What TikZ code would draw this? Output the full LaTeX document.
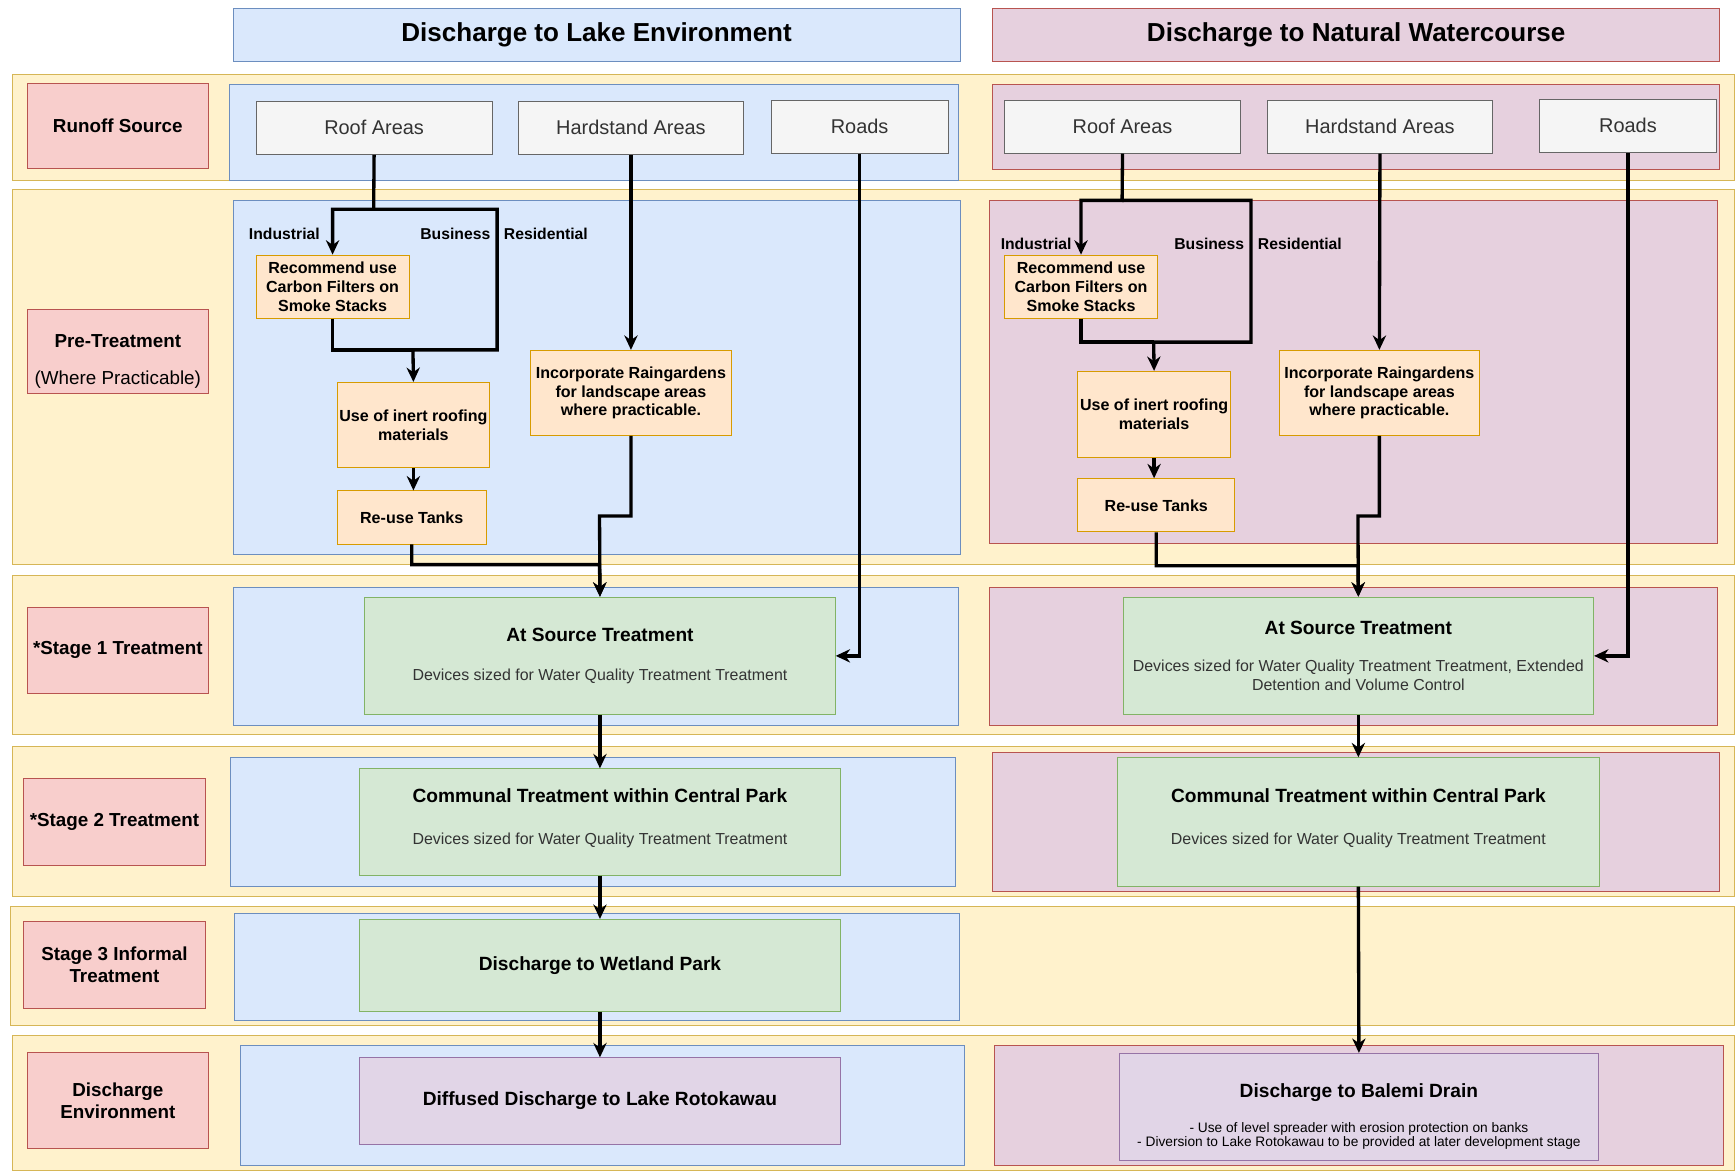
\documentclass[tikz,border=0pt]{standalone}
\usepackage{fontspec}
\setmainfont{Liberation Sans}
\usetikzlibrary{arrows.meta, positioning}
\definecolor{lanefill}{HTML}{FFF2CC}
\definecolor{laneline}{HTML}{D6B656}
\definecolor{redfill}{HTML}{F8CECC}
\definecolor{redline}{HTML}{B85450}
\definecolor{bluefill}{HTML}{DAE8FC}
\definecolor{blueline}{HTML}{6C8EBF}
\definecolor{pinkfill}{HTML}{E6D0DE}
\definecolor{pinkline}{HTML}{B85450}
\definecolor{grayfill}{HTML}{F5F5F5}
\definecolor{grayline}{HTML}{666666}
\definecolor{orangefill}{HTML}{FFE6CC}
\definecolor{orangeline}{HTML}{D79B00}
\definecolor{greenfill}{HTML}{D5E8D4}
\definecolor{greenline}{HTML}{82B366}
\definecolor{purplefill}{HTML}{E1D5E7}
\definecolor{purpleline}{HTML}{9673A6}
\definecolor{subtext}{HTML}{333333}

\begin{document}
\begin{tikzpicture}[x=1pt, y=-1pt,
    box/.style={anchor=north west, inner sep=0pt, line width=0.8pt, align=center},
    lane/.style={box, draw=laneline, fill=lanefill},
    stagelab/.style={box, draw=redline, fill=redfill, font=\fontsize{17}{20}\selectfont\bfseries},
    colhead/.style={box, font=\fontsize{23.5}{27}\selectfont\bfseries},
    lakepanel/.style={box, draw=blueline, fill=bluefill},
    creekpanel/.style={box, draw=pinkline, fill=pinkfill},
    source/.style={box, draw=grayline, fill=grayfill, text=subtext, font=\fontsize{18}{22}\selectfont},
    pre/.style={box, draw=orangeline, fill=orangefill, font=\fontsize{14.5}{17}\selectfont\bfseries},
    treat/.style={box, draw=greenline, fill=greenfill, font=\fontsize{17.3}{20}\selectfont\bfseries},
    outlet/.style={box, draw=purpleline, fill=purplefill, font=\fontsize{17.3}{20}\selectfont\bfseries},
    landuse/.style={inner sep=0pt, font=\fontsize{14.2}{17}\selectfont\bfseries},
    pipe/.style={line width=3pt},
    flow/.style={pipe, -{Stealth[length=13pt, width=12pt]}}
  ]
  \newcommand{\subfont}{\fontsize{14.4}{17}\selectfont\mdseries\color{subtext}}
  \newcommand{\notefont}{\fontsize{12.4}{13}\selectfont\mdseries}
  \useasboundingbox (0,0) rectangle (1568,1059);

  % column headings
  \node[colhead, lakepanel, minimum width=657pt, minimum height=48pt] (headL) at (210,7) {Discharge to Lake Environment};
  \node[colhead, creekpanel, minimum width=657pt, minimum height=48pt] (headR) at (896,7) {Discharge to Natural Watercourse};

  % swim lanes
  \node[lane, minimum width=1555pt, minimum height=96pt] (laneSrc) at (11,67) {};
  \node[lane, minimum width=1555pt, minimum height=338pt] (lanePre) at (11,171) {};
  \node[lane, minimum width=1555pt, minimum height=144pt] (laneOne) at (11,519) {};
  \node[lane, minimum width=1555pt, minimum height=135pt] (laneTwo) at (11,674) {};
  \node[lane, minimum width=1557pt, minimum height=108pt] (laneThree) at (9,818) {};
  \node[lane, minimum width=1555pt, minimum height=122pt] (laneDis) at (11,935) {};

  % lane labels
  \node[stagelab, minimum width=164pt, minimum height=77pt] (labSrc) at (24,75) {Runoff Source};
  \node[stagelab, minimum width=164pt, minimum height=76pt] (labPre) at (24,279) {\rule{0pt}{30pt}Pre-Treatment\\[13pt]{\mdseries(Where Practicable)}};
  \node[stagelab, minimum width=164pt, minimum height=78pt] (labOne) at (24,548) {*Stage 1 Treatment};
  \node[stagelab, minimum width=164pt, minimum height=78pt] (labTwo) at (21,703) {*Stage 2 Treatment};
  \node[stagelab, minimum width=164pt, minimum height=78pt] (labThree) at (21,832) {Stage 3 Informal\\Treatment};
  \node[stagelab, minimum width=164pt, minimum height=87pt] (labDis) at (24,950) {Discharge\\Environment};

  % panels
  \node[lakepanel, minimum width=658pt, minimum height=87pt] (pSrcL) at (207,76) {};
  \node[creekpanel, minimum width=657pt, minimum height=77pt] (pSrcR) at (896,76) {};
  \node[lakepanel, minimum width=657pt, minimum height=319pt] (pPreL) at (210,181) {};
  \node[creekpanel, minimum width=658pt, minimum height=309pt] (pPreR) at (893,181) {};
  \node[lakepanel, minimum width=655pt, minimum height=125pt] (pOneL) at (210,530) {};
  \node[creekpanel, minimum width=658pt, minimum height=125pt] (pOneR) at (893,530) {};
  \node[lakepanel, minimum width=655pt, minimum height=116pt] (pTwoL) at (208,684) {};
  \node[creekpanel, minimum width=657pt, minimum height=126pt] (pTwoR) at (896,679) {};
  \node[lakepanel, minimum width=655pt, minimum height=96pt] (pThreeL) at (211,825) {};
  \node[lakepanel, minimum width=654pt, minimum height=108pt] (pDisL) at (217,944) {};
  \node[creekpanel, minimum width=658pt, minimum height=108pt] (pDisR) at (898,944) {};

  % runoff sources
  \node[source, minimum width=213pt, minimum height=48pt] (roofL) at (231,91) {Roof Areas};
  \node[source, minimum width=203pt, minimum height=48pt] (hardL) at (468,91) {Hardstand Areas};
  \node[source, minimum width=160pt, minimum height=48pt] (roadsL) at (696,90) {Roads};
  \node[source, minimum width=213pt, minimum height=48pt] (roofR) at (907,90) {Roof Areas};
  \node[source, minimum width=204pt, minimum height=48pt] (hardR) at (1144,90) {Hardstand Areas};
  \node[source, minimum width=160pt, minimum height=48pt] (roadsR) at (1390,89) {Roads};

  % pre-treatment
  \node[pre, minimum width=138pt, minimum height=57pt] (recL) at (231,230) {Recommend use\\Carbon Filters on\\Smoke Stacks};
  \node[pre, minimum width=138pt, minimum height=77pt] (inertL) at (304,345) {Use of inert roofing\\materials};
  \node[pre, minimum width=135pt, minimum height=48pt] (reuseL) at (304,443) {Re-use Tanks};
  \node[pre, minimum width=181pt, minimum height=77pt] (rainL) at (479,316) {Incorporate Raingardens\\for landscape areas\\where practicable.};
  \node[pre, minimum width=138pt, minimum height=57pt] (recR) at (907,230) {Recommend use\\Carbon Filters on\\Smoke Stacks};
  \node[pre, minimum width=138pt, minimum height=78pt] (inertR) at (973,335) {Use of inert roofing\\materials};
  \node[pre, minimum width=142pt, minimum height=48pt] (reuseR) at (973,432) {Re-use Tanks};
  \node[pre, minimum width=181pt, minimum height=77pt] (rainR) at (1155,316) {Incorporate Raingardens\\for landscape areas\\where practicable.};

  % treatment stages
  \node[treat, minimum width=425pt, minimum height=106pt] (atsL) at (329,539) {At Source Treatment\\[15pt]{\subfont Devices sized for Water Quality Treatment Treatment}};
  \node[treat, minimum width=435pt, minimum height=96pt] (commL) at (324,694) {Communal Treatment within Central Park\\[18pt]{\subfont Devices sized for Water Quality Treatment Treatment}\rule[-10pt]{0pt}{0pt}};
  \node[treat, minimum width=435pt, minimum height=83pt] (wetL) at (324,830) {Discharge to Wetland Park};
  \node[outlet, minimum width=435pt, minimum height=78pt] (diffL) at (324,955) {Diffused Discharge to Lake Rotokawau};
  \node[treat, minimum width=425pt, minimum height=106pt] (atsR) at (1014,539) {At Source Treatment\\[14pt]{\subfont Devices sized for Water Quality Treatment Treatment, Extended}\\[-3pt]{\subfont Detention and Volume Control}};
  \node[treat, minimum width=435pt, minimum height=116pt] (commR) at (1009,684) {Communal Treatment within Central Park\\[18pt]{\subfont Devices sized for Water Quality Treatment Treatment}\rule[-10pt]{0pt}{0pt}};
  \node[outlet, minimum width=432pt, minimum height=97pt] (balR) at (1011,951) {\rule{0pt}{30pt}Discharge to Balemi Drain\\[11pt]{\notefont - Use of level spreader with erosion protection on banks}\\[-7pt]{\notefont - Diversion to Lake Rotokawau to be provided at later development stage}};

  % lake side flows
  \coordinate (splitL) at (337.5,189);
  \coordinate (busL) at (449,189);
  \coordinate (mergeL) at (373,316);
  \coordinate (joinL) at (541.5,510);
  \coordinate (stepL) at (541.5,466);
  \draw[flow] (roofL.south) -- (splitL) -| (recL.north);
  \draw[flow] (splitL) -- (busL) |- (mergeL) -- (inertL.north);
  \draw[pipe] (recL.south) |- (mergeL);
  \draw[flow] (inertL.south) -- (inertL.south |- reuseL.north);
  \draw[flow] (reuseL.south) |- (joinL) -- (atsL.north);
  \draw[flow] (hardL.south) -- (rainL.north);
  \draw[flow] (rainL.south) |- (stepL) -- (atsL.north);
  \draw[flow] (roadsL.south) |- (atsL.east);
  \draw[flow] (atsL.south) -- (commL.north);
  \draw[flow] (commL.south) -- (wetL.north);
  \draw[flow] (wetL.south) -- (diffL.north);
  \node[landuse, anchor=east] (indL) at (289,211) {Industrial};
  \node[landuse, anchor=east] (busTxtL) at (443,211) {Business};
  \node[landuse, anchor=west] (resL) at (455,211) {Residential};

  % watercourse side flows
  \coordinate (splitR) at (1013.5,181);
  \coordinate (busR) at (1130,181);
  \coordinate (mergeR) at (1042,309);
  \coordinate (joinR) at (1226.5,511);
  \coordinate (stepR) at (1226.5,466);
  \draw[flow] (roofR.south) -- (splitR) -| (recR.north);
  \draw[flow] (splitR) -- (busR) |- (mergeR) -- (inertR.north);
  \draw[pipe] (recR.south) |- (mergeR);
  \draw[flow] (inertR.south) -- (inertR.south |- reuseR.north);
  \draw[flow] (reuseR.south) |- (joinR) -- (atsR.north);
  \draw[flow] (hardR.south) -- (rainR.north);
  \draw[flow] (rainR.south) |- (stepR) -- (atsR.north);
  \draw[flow] (roadsR.south) |- (atsR.east);
  \draw[flow] (atsR.south) -- (commR.north);
  \draw[flow] (commR.south) -- (balR.north);
  \node[landuse, anchor=east] (indR) at (968,220) {Industrial};
  \node[landuse, anchor=east] (busTxtR) at (1124,220) {Business};
  \node[landuse, anchor=west] (resR) at (1136,220) {Residential};
\end{tikzpicture}
\end{document}
